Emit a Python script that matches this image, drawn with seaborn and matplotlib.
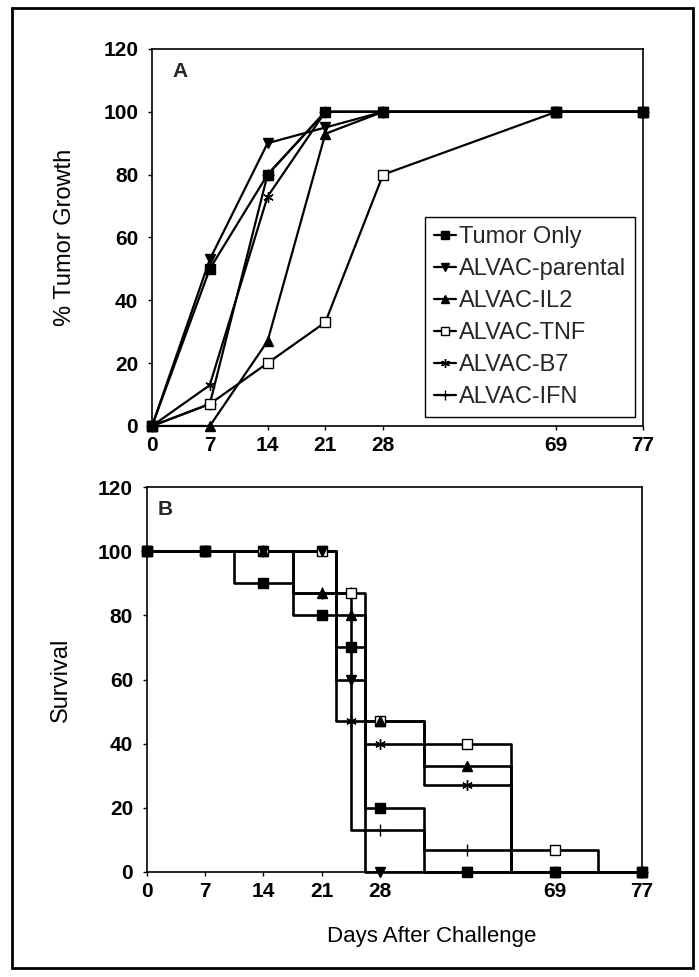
import numpy as np
import matplotlib
matplotlib.use("Agg")
import matplotlib.pyplot as plt
import seaborn as sns
from matplotlib.patches import Rectangle

sns.set_theme(style="white")
plt.rcParams["font.family"] = ["Liberation Sans", "DejaVu Sans"]

# ---------------------------------------------------------------
# x axis: days after challenge, on the uneven (Excel-like) spacing
# ---------------------------------------------------------------
TICK_DAYS = [0, 7, 14, 21, 28, 69, 77]
SCALE_DAYS = [0, 28, 69, 77]
SCALE_POS = [0, 8, 14, 17]

NAMES = ["Tumor Only", "ALVAC-parental", "ALVAC-IL2", "ALVAC-TNF", "ALVAC-B7", "ALVAC-IFN"]

# panel A : % tumor growth
DAYS_A = [0, 7, 14, 21, 28, 69, 77]
tumor_a = [0, 50, 80, 100, 100, 100, 100]
parental_a = [0, 53, 90, 95, 100, 100, 100]
il2_a = [0, 0, 27, 93, 100, 100, 100]
tnf_a = [0, 7, 20, 33, 80, 100, 100]
b7_a = [0, 13, 73, 100, 100, 100, 100]
ifn_a = [0, 7, 80, 100, 100, 100, 100]

# panel B : survival steps (day where level starts, level)
tumor_b_days = [0, 10.5, 17.5, 22.75, 26.25, 38.25, 77]
tumor_b = [100, 90, 80, 70, 20, 0, 0]
parental_b_days = [0, 22.75, 26.25, 77]
parental_b = [100, 60, 0, 0]
il2_b_days = [0, 17.5, 22.75, 26.25, 38.25, 58.75, 77]
il2_b = [100, 87, 80, 47, 33, 0, 0]
tnf_b_days = [0, 22.75, 26.25, 38.25, 58.75, 73, 77]
tnf_b = [100, 87, 47, 40, 7, 0, 0]
b7_b_days = [0, 22.75, 26.25, 38.25, 58.75, 77]
b7_b = [100, 47, 40, 27, 0, 0]
ifn_b_days = [0, 17.5, 24.5, 38.25, 58.75, 77]
ifn_b = [100, 87, 13, 7, 0, 0]

# panel B : marker points
MARK_DAYS_B = [0, 7, 14, 21, 24.5, 28, 48.5, 69, 77]
tumor_bm = [100, 100, 90, 80, 70, 20, 0, 0, 0]
parental_bm = [100, 100, 100, 100, 60, 0, 0, 0, 0]
il2_bm = [100, 100, 100, 87, 80, 47, 33, 0, 0]
tnf_bm = [100, 100, 100, 100, 87, 47, 40, 7, 0]
b7_bm = [100, 100, 100, 100, 47, 40, 27, 0, 0]
ifn_bm = [100, 100, 100, 87, 87, 13, 7, 0, 0]

MARKERS = ["s", "v", "^", "s", (6, 2, 0), "+"]
FACES = ["black", "black", "black", "white", "black", "black"]
MSIZE = [7, 7.5, 7.5, 7, 7.5, 9]
ZORD = [9, 8, 7, 6, 5, 4]


def fwd(d):
    return np.interp(d, SCALE_DAYS, SCALE_POS)


def inv(p):
    return np.interp(p, SCALE_POS, SCALE_DAYS)


def style_axes(ax):
    ax.set_xscale("function", functions=(fwd, inv))
    ax.set_xlim(0, 77)
    ax.set_ylim(0, 120)
    ax.set_xticks(TICK_DAYS)
    ax.set_xticklabels([str(d) for d in TICK_DAYS])
    ax.set_yticks(range(0, 121, 20))
    ax.minorticks_off()
    for sp in ax.spines.values():
        sp.set_color("black")
        sp.set_linewidth(1.2)
    ax.tick_params(axis="both", bottom=True, left=True, length=3, width=1,
                   color="black", labelsize=15, labelcolor="black")
    ax.tick_params(axis="y", pad=7)
    ax.tick_params(axis="x", pad=4)
    for lab in ax.get_xticklabels() + ax.get_yticklabels():
        lab.set_fontweight("bold")


fig = plt.figure(figsize=(6.99, 9.77), dpi=100, facecolor="white")
axA = fig.add_axes([0.2175, 0.564, 0.7024, 0.3859])
axB = fig.add_axes([0.2103, 0.1075, 0.708, 0.394])

# ---- panel A ----
series_a = [tumor_a, parental_a, il2_a, tnf_a, b7_a, ifn_a]
for name, vals, m, fc, ms, z in zip(NAMES, series_a, MARKERS, FACES, MSIZE, ZORD):
    sns.lineplot(x=DAYS_A, y=vals, ax=axA, color="black", lw=1.6, marker=m,
                 markersize=ms, markerfacecolor=fc, markeredgecolor="black",
                 markeredgewidth=1.0, label=name, estimator=None, sort=False,
                 zorder=z, clip_on=False)

style_axes(axA)
axA.set_xlabel("")
axA.set_ylabel("% Tumor Growth", fontsize=17, color="black")
axA.yaxis.set_label_coords(-0.155, 0.5)
axA.text(0.041, 0.966, "A", transform=axA.transAxes, fontsize=15,
         fontweight="bold", va="top", ha="left")
leg = axA.legend(loc="lower right", bbox_to_anchor=(0.984, 0.024), frameon=True,
                 fancybox=False, edgecolor="black", framealpha=1, fontsize=17,
                 handlelength=0.95, handletextpad=0.12, labelspacing=0.42,
                 borderpad=0.38, borderaxespad=0, markerscale=0.85)
leg.get_frame().set_linewidth(1.0)

# ---- panel B ----
steps_b = [(tumor_b_days, tumor_b), (parental_b_days, parental_b), (il2_b_days, il2_b),
           (tnf_b_days, tnf_b), (b7_b_days, b7_b), (ifn_b_days, ifn_b)]
marks_b = [tumor_bm, parental_bm, il2_bm, tnf_bm, b7_bm, ifn_bm]
for (d, s), mk, m, fc, ms, z in zip(steps_b, marks_b, MARKERS, FACES, MSIZE, ZORD):
    sns.lineplot(x=d, y=s, ax=axB, color="black", lw=1.9, drawstyle="steps-post",
                 estimator=None, sort=False, legend=False, zorder=3, clip_on=False)
    sns.lineplot(x=MARK_DAYS_B, y=mk, ax=axB, color="black", linestyle="",
                 marker=m, markersize=ms, markerfacecolor=fc,
                 markeredgecolor="black", markeredgewidth=1.0,
                 estimator=None, sort=False, legend=False, zorder=z, clip_on=False)

style_axes(axB)
axB.set_ylabel("Survival", fontsize=17, color="black")
axB.yaxis.set_label_coords(-0.152, 0.5)
axB.set_xlabel("Days After Challenge", fontsize=16, color="black")
axB.xaxis.set_label_coords(0.576, -0.14)
axB.text(0.022, 0.966, "B", transform=axB.transAxes, fontsize=15,
         fontweight="bold", va="top", ha="left")

# outer frame around the whole figure
fig.patches.append(Rectangle((0.0172, 0.0092), 0.974, 0.9826, transform=fig.transFigure,
                             fill=False, edgecolor="black", linewidth=2))

fig.savefig("out.png", dpi=100, facecolor="white")
